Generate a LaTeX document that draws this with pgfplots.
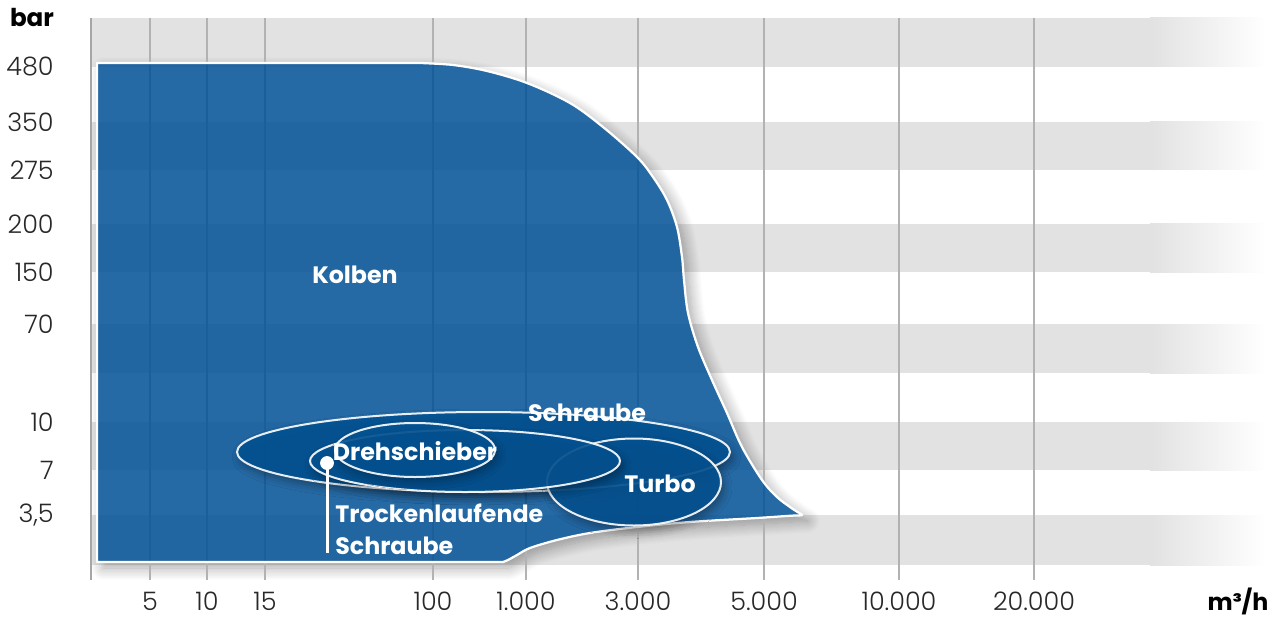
\documentclass[border=0pt]{standalone}
\usepackage{fontspec}
\setmainfont{Poppins}
\IfFontExistsTF{Poppins Light}{\newfontfamily\lightfont{Poppins Light}}{\newfontfamily\lightfont{Poppins}}
\usepackage{pgfplots}
\pgfplotsset{compat=1.18}
\usepackage{pgfplotstable}
\usetikzlibrary{shadows.blur}
\definecolor{kolben}{RGB}{0,80,150}
\definecolor{ell}{RGB}{4,82,146}
\definecolor{gridc}{RGB}{178,178,178}
\definecolor{ticktext}{RGB}{40,40,40}

% Kolben region, curved boundary (x: position along the flow axis, y: position along the pressure axis)
\pgfplotstableread{
x y
420 554
453 552
487 546
527 534
570 514
603 490
637 460
653 440
667 417
677 390
682 360
684 337
688 304
698 270
712 237
727 204
742 170
762 137
777 120
790 110
797 105.3
802 102
795 101.5
785 100.9
757 99
690 95
637 90
590 84
557 77
530 69
517 62
508 57
503 55
}\kolbentab

\pgfplotstableread{
x y
327 154
327 64
}\stemtab

\pgfplotstableread{
x y
327 154
}\dottab

\begin{document}
\begin{tikzpicture}
\begin{axis}[
  scale only axis, width=255.8mm, height=123.4mm,
  xmin=0, xmax=1279, ymin=0, ymax=617,
  clip=false,
  axis line style={draw=none},
  tick style={draw=none},
  major tick length=0pt,
  xtick={150,207,265,433,526,638,764,899,1034},
  xticklabels={5,10,15,100,1.000,3.000,5.000,10.000,20.000},
  ytick={102,147,195,293,345,393,447,495,550},
  yticklabels={{3,5},7,10,70,150,200,275,350,480},
  /pgf/number format/assume math mode=true,
  xticklabel style={anchor=base, inner sep=0pt, yshift=1.3mm, font=\lightfont\fontsize{14.5}{16}\selectfont, text=ticktext},
  yticklabel style={anchor=east, inner sep=0pt, xshift=10.8mm, font=\lightfont\fontsize{14.5}{16}\selectfont, text=ticktext},
]
\path (rel axis cs:0,0) rectangle (rel axis cs:1,1);

% shadow of the Kolben region (opaque white body carries the shadow)
\addplot[smooth, tension=0.55, draw=none, fill=white, blur shadow={shadow xshift=1.2mm, shadow yshift=-1.2mm, shadow blur radius=2.4mm, shadow opacity=35, shadow blur steps=12}] table {\kolbentab} -- (axis cs:97,55) -- (axis cs:97,554) -- cycle;

% horizontal bands
\fill[black, fill opacity=0.115] (axis cs:91,52) rectangle (axis cs:1150,102);
\fill[black, fill opacity=0.115] (axis cs:91,147) rectangle (axis cs:1150,195);
\fill[black, fill opacity=0.115] (axis cs:91,244) rectangle (axis cs:1150,293);
\fill[black, fill opacity=0.115] (axis cs:91,345) rectangle (axis cs:1150,393);
\fill[black, fill opacity=0.115] (axis cs:91,447) rectangle (axis cs:1150,495);
\fill[black, fill opacity=0.115] (axis cs:91,550) rectangle (axis cs:1150,599);
\shade[left color=black!11.5!white, right color=white] (axis cs:1150,52) rectangle (axis cs:1265,102);
\shade[left color=black!11.5!white, right color=white] (axis cs:1150,147) rectangle (axis cs:1265,195);
\shade[left color=black!11.5!white, right color=white] (axis cs:1150,244) rectangle (axis cs:1265,293);
\shade[left color=black!11.5!white, right color=white] (axis cs:1150,345) rectangle (axis cs:1265,393);
\shade[left color=black!11.5!white, right color=white] (axis cs:1150,447) rectangle (axis cs:1265,495);
\shade[left color=black!11.5!white, right color=white] (axis cs:1150,550) rectangle (axis cs:1265,599);

% vertical grid lines and left axis line
\pgfplotsinvokeforeach{150,207,265,433,526,638,764,899,1034}{
  \draw[gridc, line width=0.3mm] (axis cs:#1,37) -- (axis cs:#1,599);
}
\draw[black!35, line width=0.35mm] (axis cs:91,37) -- (axis cs:91,599);

% Kolben region
\addplot[smooth, tension=0.55, draw=white, line width=0.45mm, line join=round, fill=kolben, fill opacity=0.85] table {\kolbentab} -- (axis cs:97,55) -- (axis cs:97,554) -- cycle;

% ellipses
\draw[fill=ell, fill opacity=0.93, draw=white, draw opacity=0.9, line width=0.4mm,
  blur shadow={shadow xshift=0.6mm, shadow yshift=-1.0mm, shadow blur radius=1.6mm, shadow opacity=35}]
  (axis cs:483.5,165) ellipse [x radius=246.5, y radius=40];
\draw[fill=ell, fill opacity=0.88, draw=white, draw opacity=0.9, line width=0.4mm,
  blur shadow={shadow xshift=0.6mm, shadow yshift=-1.0mm, shadow blur radius=1.6mm, shadow opacity=35}]
  (axis cs:634,135) ellipse [x radius=87, y radius=43.5];
\draw[fill=ell, fill opacity=0.88, draw=white, draw opacity=0.9, line width=0.4mm,
  blur shadow={shadow xshift=0.6mm, shadow yshift=-1.0mm, shadow blur radius=1.6mm, shadow opacity=35}]
  (axis cs:465,156) ellipse [x radius=155, y radius=31];
\draw[fill=ell, fill opacity=0.9, draw=white, draw opacity=0.9, line width=0.4mm,
  blur shadow={shadow xshift=0.6mm, shadow yshift=-1.0mm, shadow blur radius=1.6mm, shadow opacity=30}]
  (axis cs:415,167) ellipse [x radius=80, y radius=27];

% Trockenlaufende Schraube marker
\addplot[white, line width=0.6mm] table {\stemtab};
\addplot[only marks, mark=*, mark size=1.3mm, white] table {\dottab};

% labels
\begin{scope}[every node/.style={font=\bfseries\fontsize{13.5}{16}\selectfont, text=white, inner sep=0pt}]
\node at (axis cs:355,342) {Kolben};
\node at (axis cs:587,204) {Schraube};
\node at (axis cs:415,166) {Drehschieber};
\node at (axis cs:660,133) {Turbo};
\node[anchor=west] at (axis cs:335,104) {Trockenlaufende};
\node[anchor=west] at (axis cs:335,71) {Schraube};
\end{scope}
\node[font=\bfseries\fontsize{14}{16}\selectfont, inner sep=0pt] at (axis cs:32,599) {bar};
\node[font=\bfseries\fontsize{13.5}{16}\selectfont, inner sep=0pt, anchor=base] at (axis cs:1238,7) {m³/h};
\end{axis}
\end{tikzpicture}
\end{document}
